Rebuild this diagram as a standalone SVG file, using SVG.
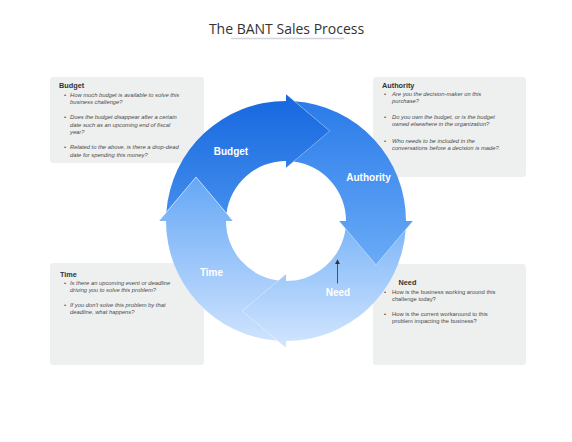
<svg xmlns="http://www.w3.org/2000/svg" width="572" height="442" viewBox="0 0 572 442">
<style>
.bg{fill:#ffffff}
.box{fill:#eef0f0}
.title{font-family:"Open Sans","Liberation Sans",sans-serif;font-size:14px;fill:#333333}
.bt{font-family:"Liberation Sans",Arial,sans-serif;font-size:7.3px;font-weight:bold;fill:#333333}
.q{font-family:"Liberation Sans",Arial,sans-serif;font-size:5.8px;font-style:italic;fill:#4a4a4a}
.qn{font-family:"Liberation Sans",Arial,sans-serif;font-size:5.8px;fill:#4a4a4a}
.seglabel{font-family:"Liberation Sans",Arial,sans-serif;font-size:10px;font-weight:bold;fill:#ffffff;text-anchor:middle}
.edge{fill:none;stroke:#ffffff;stroke-opacity:0.45;stroke-width:1}
.conn{stroke:#333333;stroke-width:0.8;fill:none}
</style>
<defs>
<linearGradient id="gBudget" gradientUnits="userSpaceOnUse" x1="0" y1="94" x2="0" y2="233">
<stop offset="0" stop-color="#1667df"/><stop offset="1" stop-color="#4a93ef"/>
</linearGradient>
<linearGradient id="gAuthority" gradientUnits="userSpaceOnUse" x1="0" y1="101" x2="0" y2="265">
<stop offset="0" stop-color="#2a7be9"/><stop offset="1" stop-color="#6aabf7"/>
</linearGradient>
<linearGradient id="gNeed" gradientUnits="userSpaceOnUse" x1="0" y1="221" x2="0" y2="348">
<stop offset="0" stop-color="#79b4f8"/><stop offset="1" stop-color="#d3e6fe"/>
</linearGradient>
<linearGradient id="gTime" gradientUnits="userSpaceOnUse" x1="0" y1="177" x2="0" y2="342">
<stop offset="0" stop-color="#64a7f6"/><stop offset="1" stop-color="#cfe3fe"/>
</linearGradient>
<marker id="ah" viewBox="0 0 6 6" refX="5" refY="3" markerWidth="5" markerHeight="5" orient="auto" markerUnits="userSpaceOnUse">
<path d="M0,0 L6,3 L0,6 Z" fill="#333333"/>
</marker>
</defs>
<rect class="bg" x="0" y="0" width="572" height="442"/>

<g id="title">
<text class="title" x="286.5" y="34" text-anchor="middle">The BANT Sales Process</text>
<line x1="231" y1="38.5" x2="344" y2="38.5" stroke="#d4d4de" stroke-width="1.3"/>
</g>

<g id="box-budget">
<rect class="box" x="50" y="77" width="154" height="86" rx="3"/>
<text class="bt" x="59" y="88">Budget</text>
<text class="q" x="64" y="96.5">•</text><text class="q" x="70" y="96.5">How much budget is available to solve this</text>
<text class="q" x="70" y="103.8">business challenge?</text>
<text class="q" x="64" y="119.3">•</text><text class="q" x="70" y="119.3">Does the budget disappear after a certain</text>
<text class="q" x="70" y="126.6">date such as an upcoming end of fiscal</text>
<text class="q" x="70" y="133.9">year?</text>
<text class="q" x="64" y="149.3">•</text><text class="q" x="70" y="149.3">Related to the above, is there a drop-dead</text>
<text class="q" x="70" y="156.6">date for spending this money?</text>
</g>

<g id="box-authority">
<rect class="box" x="373" y="77" width="153" height="100" rx="3"/>
<text class="bt" x="382" y="88.3">Authority</text>
<text class="q" x="384" y="96.4">•</text><text class="q" x="392" y="96.4">Are you the decision-maker on this</text>
<text class="q" x="392" y="103.4">purchase?</text>
<text class="q" x="384" y="119.4">•</text><text class="q" x="392" y="119.4">Do you own the budget, or is the budget</text>
<text class="q" x="392" y="126.4">owned elsewhere in the organization?</text>
<text class="q" x="384" y="142.7">•</text><text class="q" x="392" y="142.7">Who needs to be included in the</text>
<text class="q" x="392" y="149.7">conversations before a decision is made?.</text>
</g>

<g id="box-time">
<rect class="box" x="50" y="263" width="154" height="102" rx="3"/>
<text class="bt" x="60" y="276.6">Time</text>
<text class="q" x="64" y="284.8">•</text><text class="q" x="70" y="284.8">Is there an upcoming event or deadline</text>
<text class="q" x="70" y="291.8">driving you to solve this problem?</text>
<text class="q" x="64" y="307.2">•</text><text class="q" x="70" y="307.2">If you don't solve this problem by that</text>
<text class="q" x="70" y="314.3">deadline, what happens?</text>
</g>

<g id="box-need">
<rect class="box" x="373" y="264" width="153" height="101" rx="3"/>
<text class="bt" x="398.5" y="285">Need</text>
<text class="qn" x="384" y="293.8">•</text><text class="qn" x="392" y="293.8">How is the business working around this</text>
<text class="qn" x="392" y="300.8">challenge today?</text>
<text class="qn" x="384" y="315.6">•</text><text class="qn" x="392" y="315.6">How is the current workaround to this</text>
<text class="qn" x="392" y="322.8">problem impacting the business?</text>
</g>

<g id="seg-budget">
<path fill="url(#gBudget)" d="M166.3,212.3 A120,120 0 0 1 286,101 L286,161 A60,60 0 0 0 226.5,213.3 L196,177 Z"/>
<path fill="url(#gBudget)" d="M286,94 L330,131 L286,168 Z"/>
<path class="edge" d="M286,94 L330,131 L286,168"/>
<text class="seglabel" x="231" y="154.5">Budget</text>
</g>

<g id="seg-authority">
<path fill="url(#gAuthority)" d="M294.7,101.3 A120,120 0 0 1 406,221 L346,221 A60,60 0 0 0 293.7,161.5 L330,131 Z"/>
<path fill="url(#gAuthority)" d="M413,221 L376,265 L339,221 Z"/>
<path class="edge" d="M413,221 L376,265 L339,221"/>
<text class="seglabel" x="368.5" y="181">Authority</text>
</g>

<g id="seg-need">
<path fill="url(#gNeed)" d="M405.7,229.7 A120,120 0 0 1 286,341 L286,281 A60,60 0 0 0 345.5,228.7 L376,265 Z"/>
<path fill="url(#gNeed)" d="M286,348 L242,311 L286,274 Z"/>
<path class="edge" d="M286,348 L242,311 L286,274"/>
<text class="seglabel" x="338" y="295.5">Need</text>
</g>

<g id="seg-time">
<path fill="url(#gTime)" d="M277.3,340.7 A120,120 0 0 1 166,221 L226,221 A60,60 0 0 0 278.3,280.5 L242,311 Z"/>
<path fill="url(#gTime)" d="M159,221 L196,177 L233,221 Z"/>
<path class="edge" d="M159,221 L196,177 L233,221"/>
<text class="seglabel" x="211.5" y="276">Time</text>
</g>

<g id="connectors">
<line class="conn" x1="337.5" y1="283.5" x2="337.5" y2="260" marker-end="url(#ah)"/>
</g>
</svg>
